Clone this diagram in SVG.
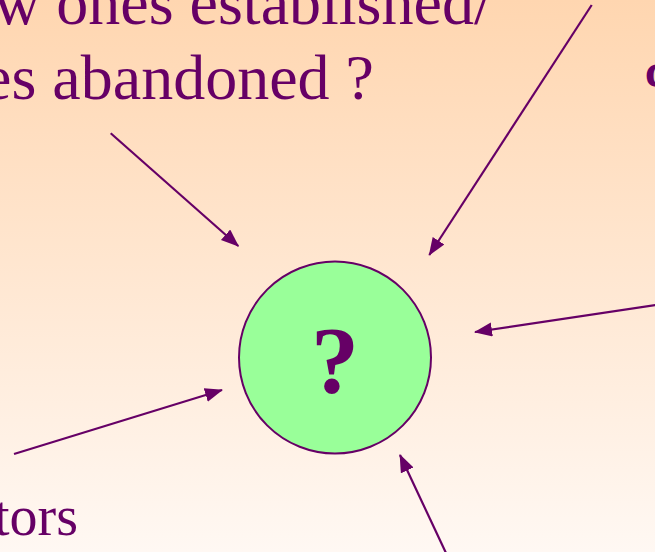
<svg xmlns="http://www.w3.org/2000/svg" width="655" height="552" viewBox="0 0 655 552">
<defs>
<linearGradient id="bg" x1="0" y1="0" x2="0" y2="1">
<stop offset="0" stop-color="#FFD6B0"/>
<stop offset="1" stop-color="#FFF8F3"/>
</linearGradient>
<marker id="ah" markerUnits="userSpaceOnUse" markerWidth="20" markerHeight="16" refX="17" refY="7" orient="auto">
<path d="M0,0 L18,7 L0,14 z" fill="#660066"/>
</marker>
<style>
.t{font-family:"Liberation Serif","Times New Roman",serif;fill:#660066}
.c{stroke:#660066;stroke-width:2.2;fill:none;marker-end:url(#ah)}
</style>
</defs>
<rect width="655" height="552" fill="url(#bg)"/>
<g id="text-top">
<text class="t" x="-6" y="24" font-size="64">w ones established/</text>
<text class="t" x="-17" y="99" font-size="64">es abandoned ?</text>
</g>
<g id="text-right"><text class="t" x="645" y="87" font-size="48" font-weight="bold">c</text></g>
<g id="text-bottom"><text class="t" x="-6" y="535" font-size="56">tors</text></g>
<g id="center">
<circle cx="335" cy="357.5" r="96" fill="#99FF99" stroke="#660066" stroke-width="2"/>
<text class="t" x="335" y="393" font-size="96" font-weight="bold" text-anchor="middle">?</text>
</g>
<g id="connectors">
<line class="c" x1="110.7" y1="133.3" x2="238.3" y2="246"/>
<line class="c" x1="591.7" y1="5" x2="429.3" y2="255"/>
<line class="c" x1="656" y1="305" x2="475" y2="332"/>
<line class="c" x1="14" y1="454" x2="222" y2="390"/>
<line class="c" x1="446" y1="553" x2="400" y2="455"/>
</g>
</svg>
